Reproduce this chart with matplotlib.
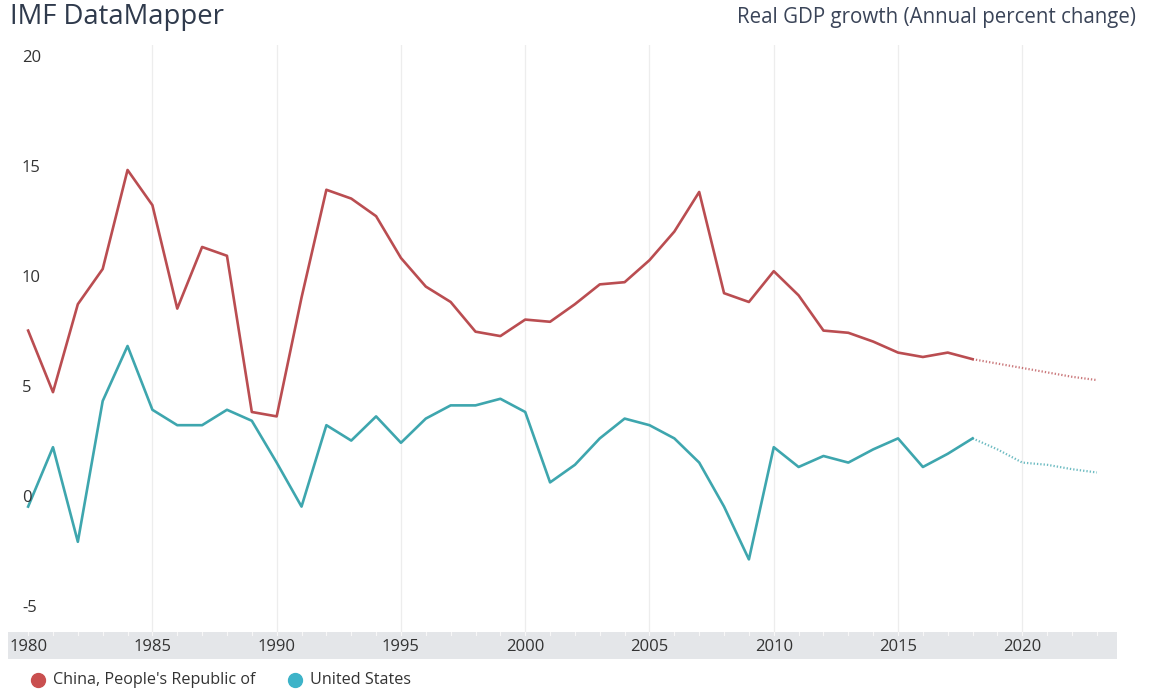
import numpy as np
import matplotlib
matplotlib.use("Agg")
import matplotlib.pyplot as plt
from matplotlib.lines import Line2D

plt.rcParams['font.family'] = ['Open Sans', 'DejaVu Sans']

# values
years = list(range(1980, 2019))
china = [7.7, 4.9, 8.9, 10.5, 15.0, 13.4, 8.7, 11.5, 11.1, 4.0,
         3.8, 9.2, 14.1, 13.7, 12.9, 11.0, 9.7, 9.0, 7.65, 7.45,
         8.2, 8.1, 8.9, 9.8, 9.9, 10.9, 12.2, 14.0, 9.4, 9.0,
         10.4, 9.3, 7.7, 7.6, 7.2, 6.7, 6.5, 6.7, 6.4]
usa = [-0.3, 2.4, -1.9, 4.5, 7.0, 4.1, 3.4, 3.4, 4.1, 3.6,
       1.7, -0.3, 3.4, 2.7, 3.8, 2.6, 3.7, 4.3, 4.3, 4.6,
       4.0, 0.8, 1.6, 2.8, 3.7, 3.4, 2.8, 1.7, -0.3, -2.7,
       2.4, 1.5, 2.0, 1.7, 2.3, 2.8, 1.5, 2.1, 2.8]

# projections (dotted)
proj_years = [2018, 2019, 2020, 2021, 2022, 2023]
china_proj = [6.4, 6.2, 6.0, 5.8, 5.6, 5.45]
usa_proj = [2.8, 2.3, 1.7, 1.6, 1.4, 1.25]

series_names = ["China, People's Republic of", "United States"]
line_colors = ["#ba4d51", "#3ea6ae"]
dot_colors = ["#c94f4f", "#3db3c8"]
y_ticks = [20, 15, 10, 5, 0, -5]
x_ticks = [1980, 1985, 1990, 1995, 2000, 2005, 2010, 2015, 2020]

W, H = 1149, 695
fig = plt.figure(figsize=(W / 100, H / 100), dpi=100)

def frac(x0, y0, x1, y1):
    # pixel box -> figure fraction
    return [x0 / W, 1 - y1 / H, (x1 - x0) / W, (y1 - y0) / H]

xlim = (1979.19, 2023.81)

ax = fig.add_axes(frac(8, 45, 1117, 632))
ax.set_xlim(*xlim)
ax.set_ylim(-6.0, 20.68)
for s in ax.spines.values():
    s.set_visible(False)
ax.set_xticks([])
ax.set_yticks([])
for xt in x_ticks[1:]:
    ax.axvline(xt, color="#ededed", lw=0.9, zorder=0)

ax.plot(years, china, color=line_colors[0], lw=1.9, solid_joinstyle="round")
ax.plot(years, usa, color=line_colors[1], lw=1.9, solid_joinstyle="round")
ax.plot(proj_years, china_proj, color=line_colors[0], lw=1.6,
        linestyle=(0, (0.6, 0.9)), alpha=0.75)
ax.plot(proj_years, usa_proj, color=line_colors[1], lw=1.6,
        linestyle=(0, (0.6, 0.9)), alpha=0.75)

for yt in y_ticks:
    ax.text(1979.75, yt + 0.1, str(yt), ha="left", va="center",
            fontsize=12, color="#333333")

# grey year band
band = fig.add_axes(frac(8, 632, 1117, 659))
band.set_facecolor("#e4e6e9")
band.set_xlim(*xlim)
band.set_ylim(0, 1)
for s in band.spines.values():
    s.set_visible(False)
band.set_yticks([])
band.set_xticks([])
for yr in range(1980, 2024):
    band.plot([yr, yr], [0.88, 1.0], color="#f7f7f7", lw=0.8)
for xt in x_ticks:
    band.text(xt, 0.45, str(xt), ha="center", va="center",
              fontsize=12, color="#333333")

# titles
fig.text(10 / W, 1 - 17 / H, "IMF DataMapper", ha="left", va="center",
         fontsize=19.8, color="#2f3a4c")
fig.text(1136 / W, 1 - 17 / H, "Real GDP growth (Annual percent change)",
         ha="right", va="center", fontsize=14.8, color="#3a4458")

# legend at the bottom
leg_x = [38, 295]
for name, c, lx in zip(series_names, dot_colors, leg_x):
    fig.add_artist(Line2D([lx / W], [1 - 680 / H], marker="o", markersize=10,
                          color=c, linestyle="none"))
    fig.text((lx + 15) / W, 1 - 680 / H, name, ha="left", va="center",
             fontsize=11.6, color="#333333")

fig.savefig("out.png", dpi=100)
